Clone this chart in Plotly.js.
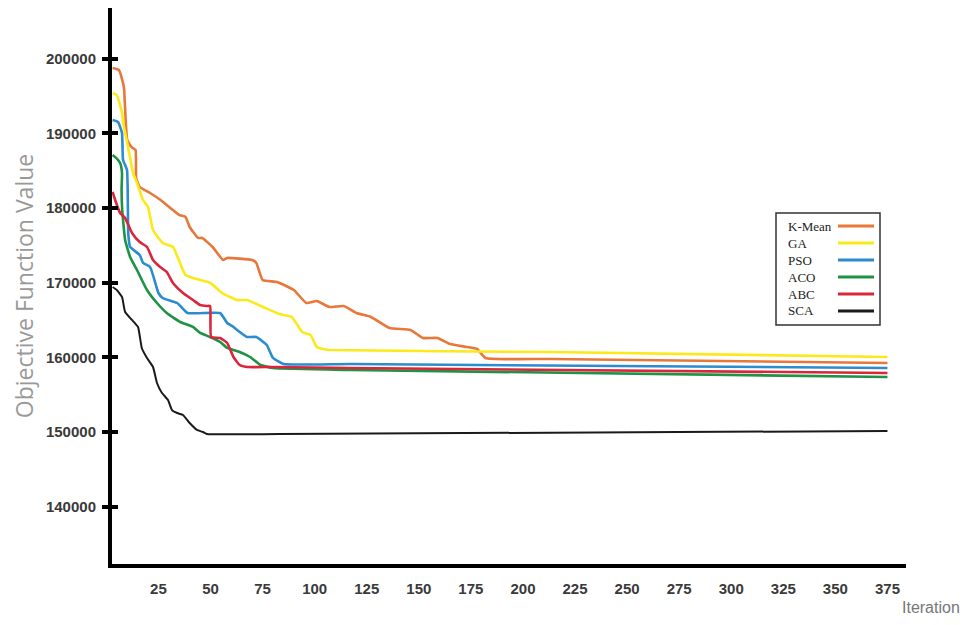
<!DOCTYPE html>
<html>
<head>
<meta charset="utf-8">
<script src="https://cdn.plot.ly/plotly-3.0.1.min.js"></script>
<style>html,body{margin:0;padding:0;background:#fff}#chart{width:973px;height:625px}</style>
</head>
<body>
<div id="chart"></div>
<script>
// ---- data ----
const seriesNames = ["K-Mean", "GA", "PSO", "ACO", "ABC", "SCA"];
const seriesColors = ["#E8773A", "#FBE91A", "#2B8CD0", "#1E9245", "#D9263A", "#1A1A1A"];

const kmeanIter = [3, 6, 8, 8.5, 10, 12, 14, 14.3, 16, 21, 26, 35, 38, 40, 44, 46, 51, 56, 58, 70, 72, 75, 82, 90, 96, 101, 107, 114, 120, 127, 136, 146, 152, 159, 165, 173, 178, 182, 213, 375];
const kmeanVal  = [198750, 198480, 196740, 195940, 189110, 188170, 187770, 184020, 182810, 182010, 181070, 179070, 178800, 177460, 175990, 175990, 174780, 173040, 173310, 173040, 172640, 170360, 170090, 169020, 167280, 167550, 166750, 166880, 165940, 165410, 163930, 163670, 162600, 162600, 161790, 161390, 161120, 159920, 159780, 159250];

const gaIter = [3, 5, 7.5, 8, 10.4, 12.8, 14.7, 17.6, 20, 22.4, 27, 32, 38, 45, 50, 55.5, 62.7, 67.5, 75.2, 83, 89, 94, 98, 101, 104, 107, 213, 375];
const gaVal  = [195400, 195130, 192720, 191520, 188170, 184690, 183350, 181070, 180140, 177060, 175320, 174780, 171030, 170360, 169960, 168620, 167680, 167680, 166750, 165800, 165410, 163400, 163000, 161390, 161120, 160990, 160720, 160050];

const psoIter = [3, 5.6, 7.5, 8, 9.9, 10.5, 11.4, 16, 17.6, 21, 25, 27, 34, 39, 54.6, 58, 61, 64, 67.5, 72, 77, 80, 85, 117, 375];
const psoVal  = [191790, 191520, 190050, 186430, 185090, 176650, 174780, 173710, 172640, 172100, 168620, 167950, 167280, 165940, 165940, 164600, 164070, 163400, 162730, 162730, 161660, 159920, 159110, 159110, 158580];

const acoIter = [3, 4.7, 6.6, 7.5, 7.3, 7.6, 8, 9, 11.4, 14.7, 19.5, 24.3, 29, 35.4, 41.6, 45, 49.8, 54.6, 58, 64, 69, 74, 80, 117, 375];
const acoVal  = [187100, 186700, 186030, 184690, 182410, 179730, 178400, 175720, 173440, 171700, 169020, 167280, 165940, 164740, 164070, 163270, 162730, 162060, 161260, 160720, 160050, 158980, 158580, 158310, 157370];

const abcIter = [3, 4.2, 6.6, 9, 12.3, 16, 19.5, 22.4, 25.8, 29, 32, 36.8, 41.6, 45, 48.3, 49.8, 50.3, 54.6, 58, 61, 64, 67.5, 80, 117, 375];
const abcVal  = [182150, 181070, 179330, 178660, 176650, 175450, 174780, 173040, 172100, 171430, 169960, 168620, 167680, 167010, 166880, 166880, 162730, 162600, 161930, 160050, 158980, 158710, 158710, 158580, 157910];

const scaIter = [3, 5, 7.5, 9, 12.3, 15.2, 17, 19.5, 22.4, 24.3, 26.7, 29.6, 31.5, 34, 36.8, 40, 43.5, 46.4, 48.3, 83, 375];
const scaVal  = [169420, 169020, 168090, 166080, 165010, 164070, 161260, 159920, 158710, 156570, 155230, 154290, 152950, 152550, 152290, 151210, 150280, 150010, 149740, 149740, 150140];

const xTickVals = [25, 50, 75, 100, 125, 150, 175, 200, 225, 250, 275, 300, 325, 350, 375];
const yTickVals = [140000, 150000, 160000, 170000, 180000, 190000, 200000];

const allIter = [kmeanIter, gaIter, psoIter, acoIter, abcIter, scaIter];
const allVal  = [kmeanVal, gaVal, psoVal, acoVal, abcVal, scaVal];

// ---- layout geometry ----
const W = 973, H = 625;
const M = {l: 112, r: 67, t: 8, b: 61};
const plotW = W - M.l - M.r, plotH = H - M.t - M.b;
const px = x => (x - M.l) / plotW;      // pixel -> paper
const py = y => (H - M.b - y) / plotH;

const traces = allIter.map((xs, i) => ({
  x: xs, y: allVal[i], type: 'scatter', mode: 'lines',
  name: seriesNames[i], showlegend: false, hoverinfo: 'skip',
  line: {color: seriesColors[i], width: i === 5 ? 2 : 2.6, shape: 'spline', smoothing: 0.4}
}));
// invisible helper trace so the overlaid axis (inner tick halves) is drawn
traces.push({x: [scaIter[0]], y: [scaVal[0]], yaxis: 'y2', type: 'scatter', mode: 'markers',
  marker: {opacity: 0, size: 1}, showlegend: false, hoverinfo: 'skip'});

// custom legend (text left, line sample right)
const shapes = [{
  type: 'rect', xref: 'paper', yref: 'paper',
  x0: px(776), x1: px(880), y0: py(325), y1: py(213),
  line: {color: '#333', width: 1.5}, fillcolor: 'rgba(0,0,0,0)'
}];
const annotations = [];
seriesNames.forEach((n, i) => {
  const yy = 226 + i * 17;
  annotations.push({
    xref: 'paper', yref: 'paper', x: px(786), y: py(yy), xanchor: 'left', yanchor: 'middle',
    text: n, showarrow: false, font: {family: 'Liberation Serif, serif', size: 13, color: '#222'}
  });
  shapes.push({
    type: 'line', xref: 'paper', yref: 'paper', x0: px(838), x1: px(874), y0: py(yy), y1: py(yy),
    line: {color: seriesColors[i], width: 3}
  });
});
annotations.push({
  xref: 'paper', yref: 'paper', x: px(931), y: py(607), xanchor: 'center', yanchor: 'middle',
  text: 'Iteration', showarrow: false, font: {family: 'Liberation Sans, Arial, sans-serif', size: 16, color: '#777'}
});

const yRange = [132334, 206780];
const tickFont = {family: 'Liberation Sans, Arial, sans-serif', size: 15, color: '#3a3a3a', weight: 'bold'};
const layout = {
  width: W, height: H, margin: M,
  paper_bgcolor: '#fff', plot_bgcolor: '#fff',
  showlegend: false,
  xaxis: {
    range: [2.7, 383.9], tickvals: xTickVals, ticktext: xTickVals.map(String),
    showgrid: false, zeroline: false, showline: true, linecolor: '#000', linewidth: 4,
    ticks: '', ticklabelstandoff: 8, tickfont: tickFont
  },
  yaxis: {
    range: yRange, tickvals: yTickVals, ticktext: yTickVals.map(String),
    showgrid: false, zeroline: false, showline: true, linecolor: '#000', linewidth: 4,
    ticks: 'outside', ticklen: 6, tickwidth: 4, tickcolor: '#000', ticklabelstandoff: 3,
    tickfont: tickFont,
    title: {text: 'Objective Function Value', standoff: 7,
            font: {family: 'Open Sans, Lato, sans-serif', size: 23, color: '#999'}}
  },
  yaxis2: {
    overlaying: 'y', anchor: 'x', side: 'left', range: yRange, tickvals: yTickVals,
    showticklabels: false, showgrid: false, zeroline: false, showline: false,
    ticks: 'inside', ticklen: 6, tickwidth: 4, tickcolor: '#000'
  },
  shapes: shapes,
  annotations: annotations
};

Plotly.newPlot('chart', traces, layout, {staticPlot: true, displayModeBar: false});
</script>
</body>
</html>
